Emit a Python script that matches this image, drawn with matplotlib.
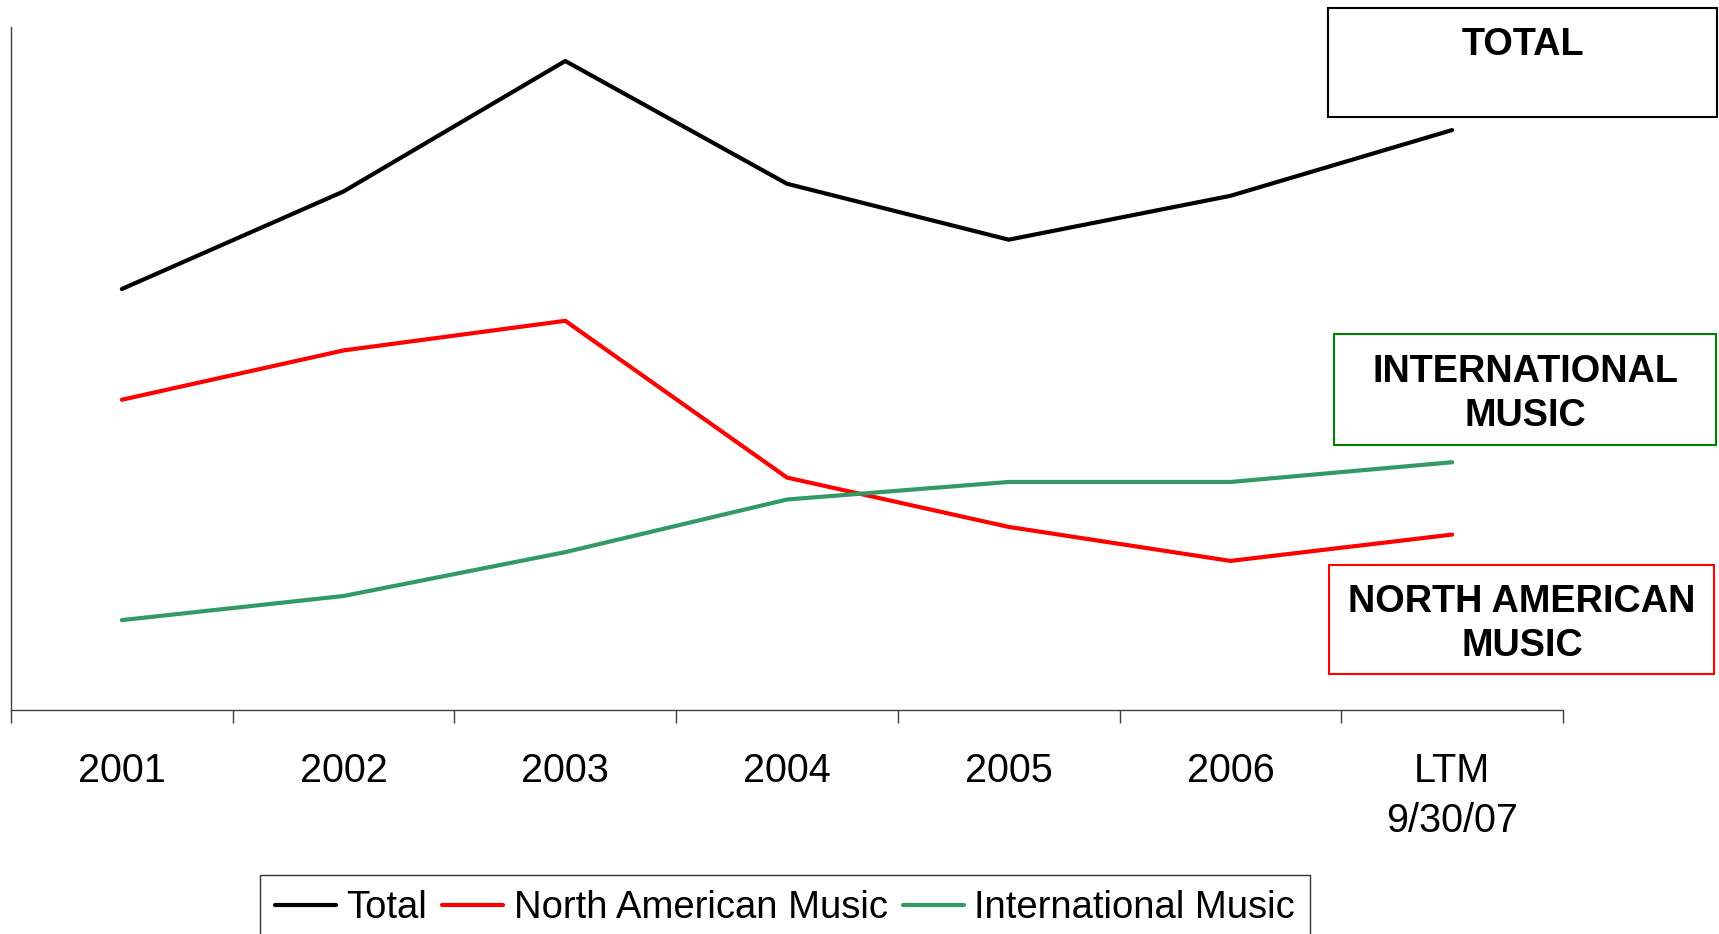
import matplotlib.pyplot as plt
from matplotlib.patches import Rectangle

plt.rcParams['font.family'] = ['Liberation Sans', 'DejaVu Sans']

# Revenue trend by segment (relative units, no y scale shown)
categories = ['2001', '2002', '2003', '2004', '2005', '2006', 'LTM\n9/30/07']
total = [384, 473, 592, 480, 429, 469, 529]
north_america = [283, 328, 355, 212, 167, 136, 160]
international = [82, 104, 144, 192, 208, 208, 226]

W, H = 1719, 934
fig = plt.figure(figsize=(W / 100, H / 100), dpi=100)

# axes placed in pixel terms
left, right, top, bottom = 11, 1563, 27, 710
ax = fig.add_axes([left / W, (H - bottom) / H, (right - left) / W, (bottom - top) / H])

x = list(range(len(categories)))
lw = 3.0
ax.plot(x, total, color='black', lw=lw, label='Total', solid_capstyle='round')
ax.plot(x, north_america, color='#ff0000', lw=lw, label='North American Music', solid_capstyle='round')
ax.plot(x, international, color='#339966', lw=lw, label='International Music', solid_capstyle='round')

ax.set_xlim(-0.5, len(categories) - 0.5)
ax.set_ylim(0, 623)

for s in ['top', 'right']:
    ax.spines[s].set_visible(False)
for s in ['left', 'bottom']:
    ax.spines[s].set_color('#404040')
    ax.spines[s].set_linewidth(1.0)

ax.set_yticks([])
# boundary ticks between categories, labels at the centres
ax.set_xticks([i - 0.5 for i in range(len(categories) + 1)])
ax.set_xticklabels([])
ax.tick_params(axis='x', which='major', direction='out', length=9.5, width=1.0, color='#404040')
ax.set_xticks(x, minor=True)
ax.set_xticklabels(categories, minor=True, fontsize=28.5, linespacing=1.42, va='top')
ax.tick_params(axis='x', which='minor', length=0, pad=30)


def px_box(x0, y0, x1, y1, edge):
    fig.patches.append(Rectangle((x0 / W, 1 - y1 / H), (x1 - x0) / W, (y1 - y0) / H,
                                 transform=fig.transFigure, fill=False,
                                 edgecolor=edge, linewidth=1.5))


def px_text(cx, cy, s):
    fig.text(cx / W, 1 - cy / H, s, ha='center', va='center', fontsize=27.3,
             fontweight='bold', linespacing=1.3)


px_box(1328, 8, 1717, 117, 'black')
px_text(1523, 45, 'TOTAL')

px_box(1334, 334, 1716, 445, '#008000')
px_text(1525, 394, 'INTERNATIONAL\nMUSIC')

px_box(1329, 565, 1714, 674, '#ff0000')
px_text(1522, 624, 'NORTH AMERICAN\nMUSIC')

leg = fig.legend(loc='upper center', bbox_to_anchor=(785 / W, 1 - 875 / H), ncol=3,
                 fontsize=27.5, handlelength=1.6, handletextpad=0.27, columnspacing=0.4,
                 borderpad=0.4, borderaxespad=0, fancybox=False, frameon=True)
leg.get_frame().set_edgecolor('black')
leg.get_frame().set_linewidth(1.0)

fig.savefig('out.png', dpi=100)
